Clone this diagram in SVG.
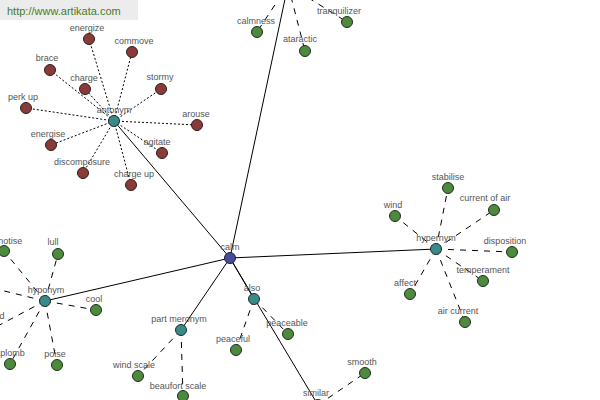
<svg xmlns="http://www.w3.org/2000/svg" width="600" height="400" viewBox="0 0 600 400">
<style>
.bg{fill:#ffffff}
.main{stroke:#000;stroke-width:1;fill:none}
.dot{stroke:#000;stroke-width:1;stroke-dasharray:2,2;fill:none}
.dash{stroke:#000;stroke-width:1;stroke-dasharray:6,6;fill:none}
.leaf{fill:#4e8a3e;stroke:#1e2e1e;stroke-width:1}
.ant{fill:#8b3a3a;stroke:#2e1e1e;stroke-width:1}
.hub{fill:#3a8a8a;stroke:#1e2e2e;stroke-width:1}
.root{fill:#4a4a9a;stroke:#1e1e3e;stroke-width:1}
text{font-family:"Liberation Sans",Arial,sans-serif;font-size:9px;fill:#555;text-anchor:middle}
.wm{font-size:11px;fill:#4a7a2a;text-anchor:start}
</style>
<rect class="bg" x="0" y="0" width="600" height="400"/>
<g id="watermark">
<rect x="0" y="0" width="138" height="20" fill="#ececec"/>
<text class="wm" x="7" y="15">http://www.artikata.com</text>
</g>
<g id="connectors">
<line class="main" x1="230" y1="258" x2="114" y2="121"/>
<line class="main" x1="230" y1="258" x2="288" y2="-15"/>
<line class="main" x1="230" y1="258" x2="436" y2="249"/>
<line class="main" x1="230" y1="258" x2="45" y2="301"/>
<line class="main" x1="230" y1="258" x2="181" y2="330"/>
<line class="main" x1="230" y1="258" x2="254" y2="299"/>
<line class="main" x1="230" y1="258" x2="318" y2="405"/>
<line class="dot" x1="114" y1="121" x2="89" y2="39"/>
<line class="dot" x1="114" y1="121" x2="132" y2="52"/>
<line class="dot" x1="114" y1="121" x2="50" y2="70"/>
<line class="dot" x1="114" y1="121" x2="85" y2="89"/>
<line class="dot" x1="114" y1="121" x2="161" y2="89"/>
<line class="dot" x1="114" y1="121" x2="26" y2="108"/>
<line class="dot" x1="114" y1="121" x2="197" y2="125"/>
<line class="dot" x1="114" y1="121" x2="51" y2="145"/>
<line class="dot" x1="114" y1="121" x2="162" y2="153"/>
<line class="dot" x1="114" y1="121" x2="83" y2="173"/>
<line class="dot" x1="114" y1="121" x2="131" y2="185"/>
<line class="dash" x1="288" y1="-15" x2="257" y2="32"/>
<line class="dash" x1="288" y1="-15" x2="305" y2="51"/>
<line class="dash" x1="288" y1="-15" x2="347" y2="22"/>
<line class="dash" x1="436" y1="249" x2="448" y2="188"/>
<line class="dash" x1="436" y1="249" x2="395" y2="216"/>
<line class="dash" x1="436" y1="249" x2="494" y2="210"/>
<line class="dash" x1="436" y1="249" x2="512" y2="252"/>
<line class="dash" x1="436" y1="249" x2="483" y2="281"/>
<line class="dash" x1="436" y1="249" x2="410" y2="294"/>
<line class="dash" x1="436" y1="249" x2="465" y2="322"/>
<line class="dash" x1="45" y1="301" x2="4" y2="251"/>
<line class="dash" x1="45" y1="301" x2="58" y2="254"/>
<line class="dash" x1="45" y1="301" x2="-20" y2="285"/>
<line class="dash" x1="45" y1="301" x2="-8" y2="329"/>
<line class="dash" x1="45" y1="301" x2="96" y2="310"/>
<line class="dash" x1="45" y1="301" x2="57" y2="365"/>
<line class="dash" x1="45" y1="301" x2="10" y2="364"/>
<line class="dash" x1="181" y1="330" x2="138" y2="376"/>
<line class="dash" x1="181" y1="330" x2="183" y2="396"/>
<line class="dash" x1="254" y1="299" x2="236" y2="350"/>
<line class="dash" x1="254" y1="299" x2="288" y2="334"/>
<line class="dash" x1="318" y1="405" x2="365" y2="373"/>
</g>
<g id="calm"><circle class="root" cx="230" cy="258" r="5.5"/><text x="230" y="250">calm</text></g>
<g id="antonym"><circle class="hub" cx="114" cy="121" r="5.5"/><text x="114" y="113">antonym</text></g>
<g id="energize"><circle class="ant" cx="89" cy="39" r="5.5"/><text x="87" y="31">energize</text></g>
<g id="commove"><circle class="ant" cx="132" cy="52" r="5.5"/><text x="134" y="44">commove</text></g>
<g id="brace"><circle class="ant" cx="50" cy="70" r="5.5"/><text x="47" y="61">brace</text></g>
<g id="charge"><circle class="ant" cx="85" cy="89" r="5.5"/><text x="84" y="81">charge</text></g>
<g id="stormy"><circle class="ant" cx="161" cy="89" r="5.5"/><text x="160" y="80">stormy</text></g>
<g id="perk-up"><circle class="ant" cx="26" cy="108" r="5.5"/><text x="23" y="100">perk up</text></g>
<g id="arouse"><circle class="ant" cx="197" cy="125" r="5.5"/><text x="196" y="117">arouse</text></g>
<g id="energise"><circle class="ant" cx="51" cy="145" r="5.5"/><text x="48" y="137">energise</text></g>
<g id="agitate"><circle class="ant" cx="162" cy="153" r="5.5"/><text x="157" y="145">agitate</text></g>
<g id="discomposure"><circle class="ant" cx="83" cy="173" r="5.5"/><text x="82" y="165">discomposure</text></g>
<g id="charge-up"><circle class="ant" cx="131" cy="185" r="5.5"/><text x="134" y="177">charge up</text></g>
<g id="calmness"><circle class="leaf" cx="257" cy="32" r="5.5"/><text x="256" y="24">calmness</text></g>
<g id="ataractic"><circle class="leaf" cx="305" cy="51" r="5.5"/><text x="300" y="42">ataractic</text></g>
<g id="tranquilizer"><circle class="leaf" cx="347" cy="22" r="5.5"/><text x="339" y="14">tranquilizer</text></g>
<g id="hypernym"><circle class="hub" cx="436" cy="249" r="5.5"/><text x="436" y="241">hypernym</text></g>
<g id="stabilise"><circle class="leaf" cx="448" cy="188" r="5.5"/><text x="448" y="180">stabilise</text></g>
<g id="wind"><circle class="leaf" cx="395" cy="216" r="5.5"/><text x="393" y="208">wind</text></g>
<g id="current-of-air"><circle class="leaf" cx="494" cy="210" r="5.5"/><text x="485" y="201">current of air</text></g>
<g id="disposition"><circle class="leaf" cx="512" cy="252" r="5.5"/><text x="505" y="244">disposition</text></g>
<g id="temperament"><circle class="leaf" cx="483" cy="281" r="5.5"/><text x="483" y="273">temperament</text></g>
<g id="affect"><circle class="leaf" cx="410" cy="294" r="5.5"/><text x="405" y="286">affect</text></g>
<g id="air-current"><circle class="leaf" cx="465" cy="322" r="5.5"/><text x="458" y="314">air current</text></g>
<g id="hyponym"><circle class="hub" cx="45" cy="301" r="5.5"/><text x="46" y="293">hyponym</text></g>
<g id="hypnotise"><circle class="leaf" cx="4" cy="251" r="5.5"/><text x="3" y="244">hypnotise</text></g>
<g id="lull"><circle class="leaf" cx="58" cy="254" r="5.5"/><text x="53" y="245">lull</text></g>
<g id="d-label"><text x="2" y="319">d</text></g>
<g id="cool"><circle class="leaf" cx="96" cy="310" r="5.5"/><text x="94" y="302">cool</text></g>
<g id="poise"><circle class="leaf" cx="57" cy="365" r="5.5"/><text x="55" y="357">poise</text></g>
<g id="aplomb"><circle class="leaf" cx="10" cy="364" r="5.5"/><text x="10" y="356">aplomb</text></g>
<g id="part-meronym"><circle class="hub" cx="181" cy="330" r="5.5"/><text x="179" y="322">part meronym</text></g>
<g id="wind-scale"><circle class="leaf" cx="138" cy="376" r="5.5"/><text x="134" y="368">wind scale</text></g>
<g id="beaufort-scale"><circle class="leaf" cx="183" cy="396" r="5.5"/><text x="178" y="389">beaufort scale</text></g>
<g id="also"><circle class="hub" cx="254" cy="299" r="5.5"/><text x="252" y="291">also</text></g>
<g id="peaceful"><circle class="leaf" cx="236" cy="350" r="5.5"/><text x="233" y="342">peaceful</text></g>
<g id="peaceable"><circle class="leaf" cx="288" cy="334" r="5.5"/><text x="287" y="326">peaceable</text></g>
<g id="similar"><circle class="hub" cx="318" cy="405" r="5.5"/><text x="316" y="396">similar</text></g>
<g id="smooth"><circle class="leaf" cx="365" cy="373" r="5.5"/><text x="362" y="365">smooth</text></g>
</svg>
